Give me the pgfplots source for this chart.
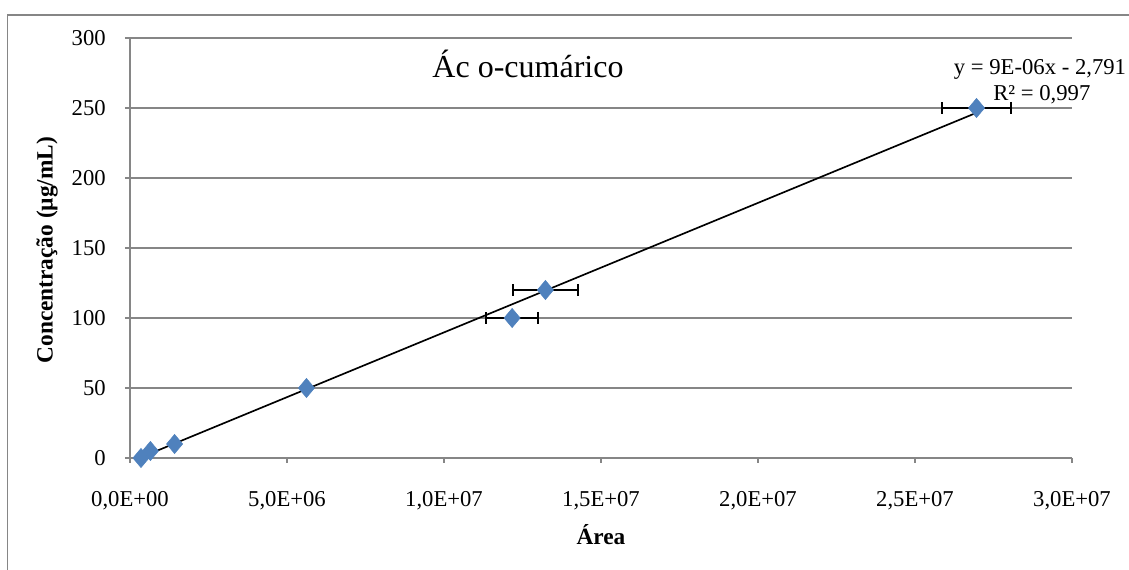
\documentclass[border=0pt]{standalone}
\usepackage{pgfplots}
\pgfplotsset{compat=1.18}
\usepackage{fontspec}
\setmainfont{Liberation Serif}
\definecolor{gridgray}{HTML}{868686}
\definecolor{excelblue}{HTML}{4F81BD}
\pgfplotstableread{
x y ex
0.35 0 0.03
0.65 5 0.03
1.42 10 0.03
5.62 50 0.03
12.17 100 0.82
13.23 120 1.03
26.96 250 1.09
}\datatab
\begin{document}
\begin{tikzpicture}
\useasboundingbox (0,0) rectangle (846.75pt,427.5pt);
\clip (0,0) rectangle (846.75pt,427.5pt);
\draw[gridgray, line width=1.1pt] (5.5pt,-10pt) -- (5.5pt,416.25pt) -- (860pt,416.25pt);
\begin{axis}[
 at={(97.5pt,84pt)}, anchor=south west,
 width=706.5pt, height=315pt, scale only axis,
 xmin=0, xmax=30, ymin=0, ymax=300,
 xtick={0,5,...,30},
 xticklabels={{0,0E+00},{5,0E+06},{1,0E+07},{1,5E+07},{2,0E+07},{2,5E+07},{3,0E+07}},
 ytick={0,50,...,300},
 axis lines*=left,
 axis line style={gridgray, line width=0.9pt},
 ymajorgrids, grid style={gridgray, line width=0.9pt},
 tick style={gridgray, line width=0.9pt}, major tick length=3.75pt, tick align=outside,
 clip=false,
 /pgf/number format/assume math mode=true,
 ticklabel style={font=\fontsize{17}{20}\selectfont},
 xticklabel style={anchor=base, yshift=-33pt},
 yticklabel style={anchor=east, inner sep=0pt, xshift=-14.25pt},
 xlabel={Área},
 xlabel style={at={(axis description cs:0.5,-0.207)}, anchor=base, font=\fontsize{17.5}{20}\selectfont\bfseries},
 ylabel={Concentração (µg/mL)},
 ylabel style={at={(axis description cs:-0.0881,0.495)}, anchor=center, font=\fontsize{17.5}{20}\selectfont\bfseries},
]
\addplot+[only marks, mark=diamond*, mark size=7.2pt, color=excelblue,
  mark options={fill=excelblue, draw=excelblue, xscale=1.12},
  error bars/.cd, x dir=both, x explicit, error mark=|,
  error bar style={black, line width=1.3pt},
  error mark options={black, line width=1.5pt, mark size=4.5pt}]
  table[x=x, y=y, x error=ex]{\datatab};
\addplot[black, line width=1.25pt, no marks] coordinates {(0.35,0.45) (26.96,246.6)};
\node[anchor=base, font=\fontsize{24}{28}\selectfont] at (axis description cs:0.4225,0.905) {Ác o-cumárico};
\node[anchor=base, font=\fontsize{17}{20}\selectfont] at (axis description cs:0.966,0.912) {y = 9E-06x - 2,791};
\node[anchor=base, font=\fontsize{17}{20}\selectfont] at (axis description cs:0.968,0.852) {R² = 0,997};
\end{axis}
\end{tikzpicture}
\end{document}
